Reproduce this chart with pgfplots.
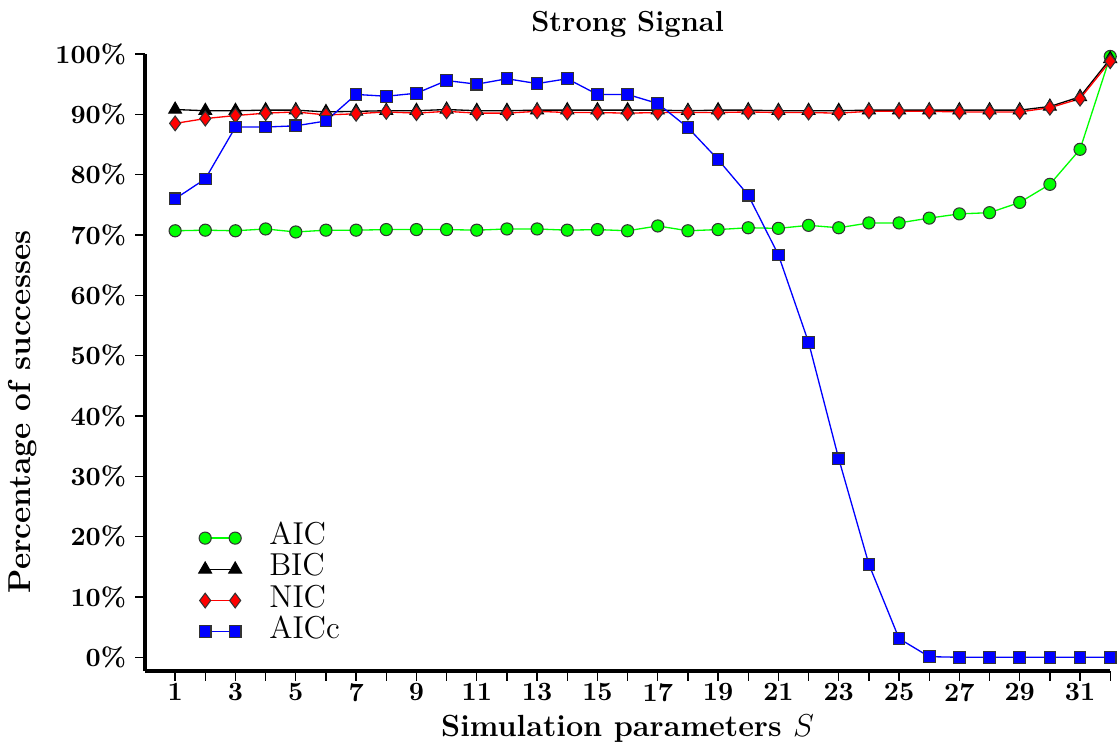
\documentclass[border=0pt]{standalone}
\usepackage{pgfplots}
\pgfplotsset{compat=1.18}
\begin{document}
\begin{tikzpicture}
\begin{axis}[
  scale only axis,
  width=366pt, height=234pt,
  xmin=0, xmax=32, ymin=-2.3, ymax=100,
  axis x line*=bottom, axis y line*=left,
  axis line style={-, line width=1.4pt},
  tick align=outside,
  major tick length=3.6pt,
  tick style={black, line width=0.5pt},
  xtick={1,...,32},
  xticklabels={1,,3,,5,,7,,9,,11,,13,,15,,17,,19,,21,,23,,25,,27,,29,,31,},
  ytick={0,10,...,100},
  yticklabels={0\%,10\%,20\%,30\%,40\%,50\%,60\%,70\%,80\%,90\%,100\%},
  tick label style={font=\bfseries},
  xticklabel style={yshift=2.5pt},
  title={Strong Signal},
  title style={font=\fontsize{11}{13}\selectfont\bfseries, inner ysep=4.3pt, yshift=-4.2pt},
  xlabel={Simulation parameters $S$},
  ylabel={Percentage of successes},
  xlabel style={font=\fontsize{11.6}{14}\selectfont\bfseries, inner ysep=1pt, yshift=-0.5pt},
  ylabel style={font=\large\bfseries, at={(ticklabel cs:0.42)}},
  clip=false,
  legend style={draw=none, fill=none, at={(0.047,0.027)}, anchor=south west, font=\large,
    row sep=-1pt, nodes={text height=1.6ex, text depth=0.45ex},
    /tikz/every odd column/.append style={column sep=8.5pt}},
  legend cell align=left,
  legend image code/.code={\draw[mark repeat=2,mark phase=1] plot coordinates {(0cm,0cm) (0.2cm,0cm) (0.4cm,0cm)};},
  every axis plot/.append style={line width=0.5pt},
]
\addplot[green, mark=*, mark size=2.3pt, mark options={fill=green, draw=black!80, line width=0.4pt}] coordinates {
(1,70.7)(2,70.8)(3,70.7)(4,71.0)(5,70.5)(6,70.8)(7,70.8)(8,70.9)(9,70.9)(10,70.9)
(11,70.8)(12,71.0)(13,71.0)(14,70.8)(15,70.9)(16,70.7)(17,71.5)(18,70.7)(19,70.9)(20,71.2)
(21,71.1)(22,71.6)(23,71.2)(24,72.0)(25,72.0)(26,72.8)(27,73.5)(28,73.7)(29,75.4)(30,78.4)
(31,84.2)(32,99.6)};
\addlegendentry{AIC}
\addplot[black, mark=triangle*, mark size=2.8pt, mark options={fill=black, draw=black, line width=0.4pt}] coordinates {
(1,90.8)(2,90.6)(3,90.6)(4,90.7)(5,90.7)(6,90.4)(7,90.5)(8,90.6)(9,90.6)(10,90.8)
(11,90.6)(12,90.6)(13,90.7)(14,90.7)(15,90.7)(16,90.7)(17,90.7)(18,90.6)(19,90.7)(20,90.7)
(21,90.6)(22,90.6)(23,90.6)(24,90.7)(25,90.7)(26,90.7)(27,90.7)(28,90.7)(29,90.7)(30,91.3)
(31,92.9)(32,99.2)};
\addlegendentry{BIC}
\addplot[red, mark=diamond*, mark size=2.8pt, mark options={fill=red, draw=black!80, line width=0.4pt}] coordinates {
(1,88.5)(2,89.3)(3,89.8)(4,90.2)(5,90.4)(6,89.9)(7,90.1)(8,90.4)(9,90.2)(10,90.5)
(11,90.2)(12,90.2)(13,90.5)(14,90.3)(15,90.3)(16,90.2)(17,90.3)(18,90.3)(19,90.3)(20,90.4)
(21,90.3)(22,90.3)(23,90.2)(24,90.5)(25,90.5)(26,90.5)(27,90.4)(28,90.4)(29,90.4)(30,91.1)
(31,92.6)(32,98.8)};
\addlegendentry{NIC}
\addplot[blue, mark=square*, mark size=2.2pt, mark options={fill=blue, draw=black!80, line width=0.4pt}] coordinates {
(1,76.0)(2,79.3)(3,87.9)(4,87.9)(5,88.1)(6,88.9)(7,93.3)(8,93.0)(9,93.5)(10,95.6)
(11,95.0)(12,95.9)(13,95.1)(14,95.9)(15,93.3)(16,93.3)(17,91.8)(18,87.8)(19,82.5)(20,76.6)
(21,66.7)(22,52.2)(23,32.9)(24,15.4)(25,3.1)(26,0.1)(27,0)(28,0)(29,0)(30,0)
(31,0)(32,0)};
\addlegendentry{AICc}
\end{axis}
\end{tikzpicture}
\end{document}
